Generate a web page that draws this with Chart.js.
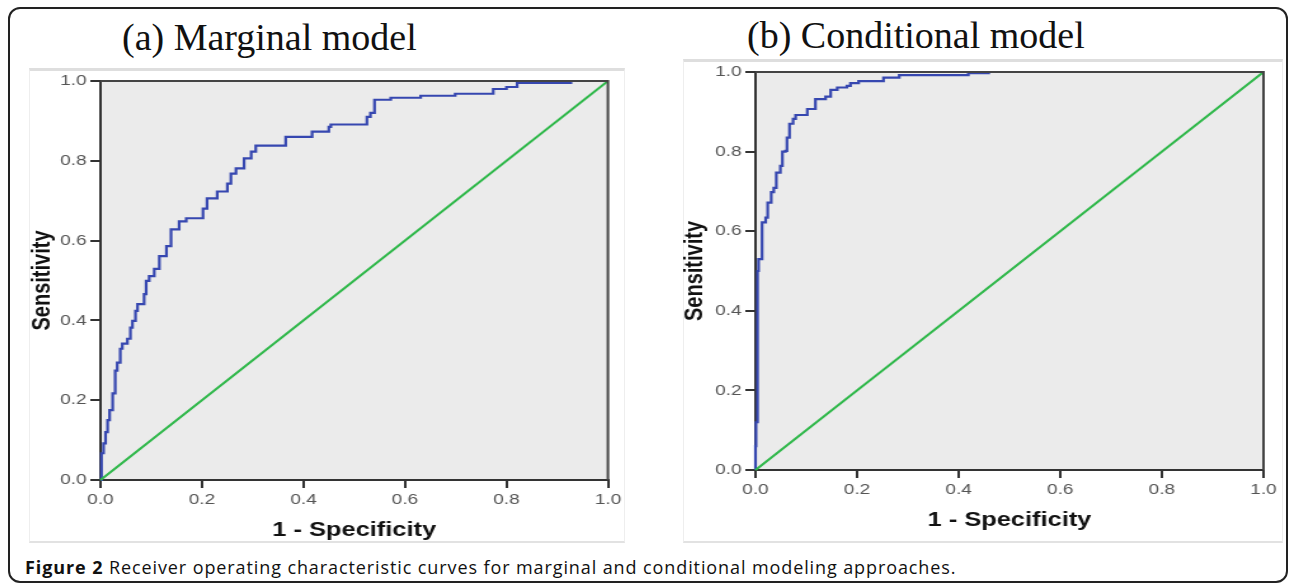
<!DOCTYPE html>
<html>
<head>
<meta charset="utf-8">
<script src="https://cdn.jsdelivr.net/npm/chart.js@4"></script>
<style>
  html, body { margin: 0; padding: 0; background: #fff; }
  body { width: 1290px; height: 587px; position: relative; overflow: hidden; }
  .frame { position: absolute; left: 8px; top: 7px; width: 1280px; height: 576px;
           border: 2px solid #222; border-radius: 12px; box-sizing: border-box; }
  .panel { position: absolute; box-sizing: border-box;
           border-top: 3px solid #dedede; border-bottom: 2px solid #e2e2e2;
           border-left: 1px solid #eee; border-right: 1px solid #eee; }
  .title { position: absolute; font-family: "Liberation Serif", "Times New Roman", serif;
           font-size: 38px; line-height: 38px; color: #111; white-space: nowrap; }
  canvas { position: absolute; transform: scaleX(1.27); transform-origin: 0 0; }
  .caption { position: absolute; left: 25px; top: 556px; font-family: "Open Sans", sans-serif;
             font-size: 18px; line-height: 22px; letter-spacing: 0.9px; color: #111; white-space: nowrap; }
</style>
</head>
<body>
<div class="frame"></div>
<div class="title" style="left:122px; top:18px;">(a) Marginal model</div>
<div class="title" style="left:747px; top:16px;">(b) Conditional model</div>
<div class="panel" style="left:29px; top:68px; width:596px; height:475px;"></div>
<div class="panel" style="left:683px; top:59px; width:600px; height:484px;"></div>
<canvas id="chartA" width="474" height="473" style="left:23px; top:69px;"></canvas>
<canvas id="chartB" width="482" height="482" style="left:678px; top:60px;"></canvas>
<div class="caption"><b>Figure 2</b> Receiver operating characteristic curves for marginal and conditional modeling approaches.</div>
<script>
const tickLabels = ["0.0", "0.2", "0.4", "0.6", "0.8", "1.0"];

// (a) marginal model ROC
const marginalFpr = [0, 0.002, 0.006, 0.010, 0.014, 0.018, 0.024, 0.029, 0.033, 0.039, 0.043, 0.053,
  0.059, 0.063, 0.069, 0.073, 0.086, 0.090, 0.096, 0.106, 0.116, 0.130, 0.139, 0.155, 0.169, 0.198,
  0.202, 0.210, 0.230, 0.250, 0.257, 0.267, 0.283, 0.297, 0.306, 0.352, 0.365, 0.405, 0.417, 0.450,
  0.454, 0.515, 0.525, 0.532, 0.540, 0.572, 0.631, 0.699, 0.774, 0.800, 0.821, 0.927, 1.0];
const marginalTpr = [0, 0.067, 0.092, 0.120, 0.150, 0.175, 0.217, 0.274, 0.294, 0.329, 0.342, 0.354,
  0.382, 0.399, 0.424, 0.441, 0.466, 0.499, 0.511, 0.529, 0.561, 0.586, 0.628, 0.648, 0.656, 0.656,
  0.680, 0.706, 0.723, 0.743, 0.768, 0.781, 0.806, 0.823, 0.838, 0.838, 0.860, 0.860, 0.873, 0.885,
  0.891, 0.891, 0.910, 0.920, 0.953, 0.958, 0.963, 0.968, 0.980, 0.985, 0.995, 1.0, 1.0];

// (b) conditional model ROC
const conditionalFpr = [0, 0.0, 0.001, 0.004, 0.006, 0.013, 0.020, 0.024, 0.031, 0.036, 0.041, 0.049,
  0.053, 0.059, 0.062, 0.067, 0.074, 0.079, 0.098, 0.102, 0.114, 0.118, 0.131, 0.138, 0.148, 0.161,
  0.180, 0.187, 0.203, 0.249, 0.252, 0.280, 0.283, 0.417, 0.419, 0.459, 1.0];
const conditionalTpr = [0, 0.060, 0.120, 0.500, 0.530, 0.622, 0.634, 0.672, 0.698, 0.709, 0.747, 0.764,
  0.800, 0.802, 0.835, 0.870, 0.882, 0.892, 0.892, 0.907, 0.907, 0.932, 0.932, 0.938, 0.955, 0.961,
  0.965, 0.972, 0.977, 0.977, 0.986, 0.986, 0.992, 0.992, 0.997, 1.0, 1.0];

// reference diagonal
const diagFpr = [0, 1];
const diagTpr = [0, 1];

const ROC_BLUE = "#3647b0";
const DIAG_GREEN = "#2fb84a";

function pts(xs, ys){ return xs.map((x, i) => ({x, y: ys[i]})); }

// gray plot background + box round the plot area
const plotBox = {
  id: "plotBox",
  beforeDraw(chart){
    const {ctx, chartArea: a} = chart;
    ctx.save();
    ctx.fillStyle = "#ebebeb";
    ctx.fillRect(a.left, a.top, a.right - a.left, a.bottom - a.top);
    ctx.restore();
  },
  afterDraw(chart){
    const {ctx, chartArea: a} = chart;
    ctx.save();
    ctx.strokeStyle = "#444";
    ctx.lineWidth = 2;
    ctx.beginPath();
    ctx.moveTo(a.left, a.top);
    ctx.lineTo(a.right, a.top);
    ctx.lineTo(a.right, a.bottom);
    ctx.stroke();
    ctx.restore();
  }
};

function makeChart(id, fpr, tpr, o){
  return new Chart(document.getElementById(id), {
    type: "line",
    data: {
      datasets: [
        { data: pts(diagFpr, diagTpr), borderColor: DIAG_GREEN, borderWidth: 2, pointRadius: 0, tension: 0, clip: false },
        { data: pts(fpr, tpr), borderColor: ROC_BLUE, borderWidth: 2.2, pointRadius: 0, stepped: "before", clip: false }
      ]
    },
    options: {
      responsive: false,
      animation: false,
      layout: { padding: { top: o.top, right: o.right, left: 0, bottom: 0 } },
      plugins: { legend: { display: false }, tooltip: { enabled: false } },
      scales: {
        x: {
          type: "linear", min: 0, max: 1,
          afterFit: s => { s.height = o.xh; },
          ticks: { stepSize: 0.2, padding: 3, color: "#555", font: { family: "Liberation Sans", size: 15 },
                   callback: (v, i) => tickLabels[i] },
          grid: { drawOnChartArea: false, drawTicks: true, tickLength: 8, color: "#333", lineWidth: 2 },
          border: { display: true, color: "#333", width: 2 },
          title: { display: true, text: "1 - Specificity", color: "#111",
                   font: { family: "Liberation Sans", size: 20, weight: "bold" },
                   padding: { top: 0, bottom: o.xtb } }
        },
        y: {
          type: "linear", min: 0, max: 1,
          afterFit: s => { s.width = 61; },
          ticks: { stepSize: 0.2, padding: 3, color: "#555", font: { family: "Liberation Sans", size: 15 },
                   callback: (v, i) => tickLabels[i] },
          grid: { drawOnChartArea: false, drawTicks: true, tickLength: 8, color: "#333", lineWidth: 2 },
          border: { display: true, color: "#333", width: 2 },
          title: { display: true, text: "Sensitivity", color: "#111",
                   font: { family: "Liberation Sans", size: 20, weight: "bold" },
                   padding: { top: o.ytp, bottom: 0 } }
        }
      }
    },
    plugins: [plotBox]
  });
}

makeChart("chartA", marginalFpr, marginalTpr, { top: 10, right: 12, xh: 62, xtb: 0, ytp: 3 });
makeChart("chartB", conditionalFpr, conditionalTpr, { top: 11, right: 21, xh: 72, xtb: 10, ytp: 1 });
</script>
</body>
</html>
